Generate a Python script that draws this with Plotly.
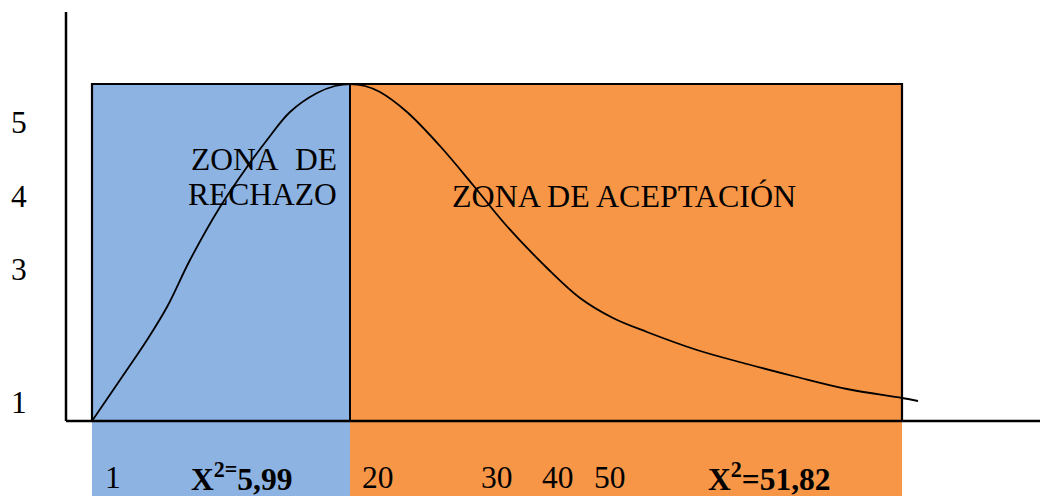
import plotly.graph_objects as go

# Diagram units: x to the right of the vertical axis, y above the horizontal axis
zone_names = ["ZONA DE RECHAZO", "ZONA DE ACEPTACIÓN"]
zone_left = [26, 284]
zone_right = [284, 836]
zone_top = 337
zone_bottom = -90
zone_colors = ["#8DB3E2", "#F79646"]

curve_x = [26, 69, 81, 101, 124, 154, 181, 201, 224, 251, 269, 284, 299, 314,
           341, 374, 407, 439, 481, 514, 547, 581, 631, 681, 731, 781, 836, 852]
curve_y = [0, 63, 81, 114, 161, 214, 254, 281, 309, 328, 335, 337, 335, 329,
           309, 275, 236, 197, 153, 123, 103, 89, 71, 57, 44, 32, 23, 20]

vaxis_top = 409
haxis_right = 990

y_tick_pos = [299, 225, 152, 19]
y_tick_text = ["5", "4", "3", "1"]

bottom_pos = [37, 123, 294, 413, 474, 526, 640]
bottom_text = ["1", "<b>X<sup>2=</sup>5,99</b>", "20", "30", "40", "50",
               "<b>X<sup>2</sup>=51,82</b>"]

FONT = "Liberation Serif"
FS = 31.5
fig = go.Figure()

for i in range(2):
    xl, xr = zone_left[i], zone_right[i]
    fig.add_trace(go.Scatter(
        x=[xl, xr, xr, xl, xl], y=[zone_bottom, zone_bottom, zone_top, zone_top, zone_bottom],
        fill="toself", fillcolor=zone_colors[i], mode="lines",
        line=dict(width=0, color=zone_colors[i]), hoverinfo="skip", showlegend=False))

# borders of the zones (above axis)
fig.add_trace(go.Scatter(
    x=[zone_left[0], zone_left[0], zone_right[1], zone_right[1]],
    y=[0, zone_top, zone_top, 0], mode="lines",
    line=dict(color="black", width=2.2), hoverinfo="skip", showlegend=False))
fig.add_trace(go.Scatter(
    x=[zone_right[0], zone_right[0]], y=[0, zone_top], mode="lines",
    line=dict(color="black", width=2), hoverinfo="skip", showlegend=False))

# axes
fig.add_trace(go.Scatter(
    x=[0, 0, None, 0, haxis_right], y=[vaxis_top, 0, None, 0, 0], mode="lines",
    line=dict(color="black", width=2.5), hoverinfo="skip", showlegend=False, cliponaxis=False))

# curve
fig.add_trace(go.Scatter(
    x=curve_x, y=curve_y, mode="lines", line=dict(color="black", width=1.8, shape="spline", smoothing=1.0),
    hoverinfo="skip", showlegend=False))

ann = []
for p, t in zip(y_tick_pos, y_tick_text):
    ann.append(dict(x=-57, y=p, xref="x", yref="y", text=t, showarrow=False,
                    xanchor="left", yanchor="middle", font=dict(family=FONT, size=FS, color="black")))
for p, t in zip(bottom_pos, bottom_text):
    ann.append(dict(x=p, y=-56, xref="x", yref="y", text=t, showarrow=False,
                    xanchor="left", yanchor="middle", font=dict(family=FONT, size=FS, color="black")))
ann.append(dict(x=123, y=262, xref="x", yref="y", text="ZONA", showarrow=False,
                xanchor="left", yanchor="middle", font=dict(family=FONT, size=FS, color="black")))
ann.append(dict(x=273, y=262, xref="x", yref="y", text="DE", showarrow=False,
                xanchor="right", yanchor="middle", font=dict(family=FONT, size=FS, color="black")))
ann.append(dict(x=273, y=227, xref="x", yref="y", text="RECHAZO", showarrow=False,
                xanchor="right", yanchor="middle", font=dict(family=FONT, size=FS, color="black")))
ann.append(dict(x=384, y=225, xref="x", yref="y", text="ZONA DE ACEPTACIÓN", showarrow=False,
                xanchor="left", yanchor="middle", font=dict(family=FONT, size=FS + 0.5, color="black")))

# the page body has an 8px margin: size the figure to the visible part of the window
fig.update_layout(
    width=1040, height=488, margin=dict(l=0, r=0, t=0, b=0),
    paper_bgcolor="white", plot_bgcolor="white",
    xaxis=dict(range=[-58, 982], visible=False, fixedrange=True),
    yaxis=dict(range=[-75, 413], visible=False, fixedrange=True),
    annotations=ann, showlegend=False)

fig.write_html("out.html")
